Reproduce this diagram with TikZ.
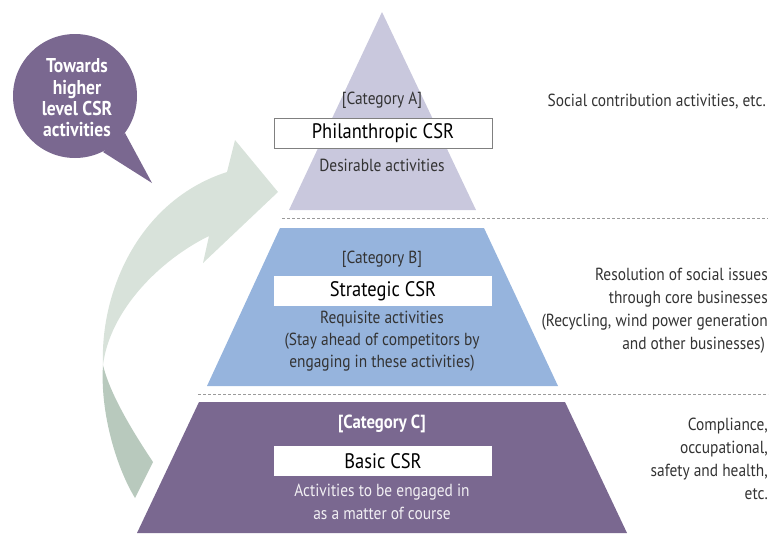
\documentclass[tikz,border=0pt]{standalone}
\usepackage{fontspec}
\setmainfont{PT Sans}[FakeStretch=0.88]
\begin{document}
\begin{tikzpicture}[x=1pt,y=-1pt,
  txt/.style={text=textgray,font=\fontsize{17.5}{22}\selectfont,inner sep=0pt,align=center},
  rtxt/.style={text=textgray,font=\fontsize{17.5}{23}\selectfont,inner sep=0pt,align=right,anchor=east},
  title/.style={text=black,font=\fontsize{21}{24}\selectfont,inner sep=0pt,minimum width=218pt,minimum height=30pt,fill=white},
  sep/.style={draw=dashgray,dashed,line width=0.6pt,dash pattern=on 3pt off 2pt}]
\definecolor{textgray}{HTML}{333333}
\definecolor{dashgray}{HTML}{9A9A9A}
\definecolor{lav}{HTML}{C9C8DD}
\definecolor{blu}{HTML}{96B4DD}
\definecolor{pur}{HTML}{7A6890}
\definecolor{arrlight}{HTML}{D8E2DA}
\definecolor{arrdark}{HTML}{B8C9BD}
\useasboundingbox (0,0) rectangle (782,533);
% pyramid layers
\fill[lav] (382,12) -- (476,210) -- (289,210) -- cycle;
\fill[blu] (280,228) -- (484,228) -- (558,386) -- (207,386) -- cycle;
\fill[pur] (199,402) -- (565,402) -- (627,533) -- (137,533) -- cycle;
% dashed separators
\coordinate (d1a) at (282,218); \coordinate (d1b) at (768,218);
\coordinate (d2a) at (198,394); \coordinate (d2b) at (768,394);
\draw[sep] (d1a) -- (d1b);
\draw[sep] (d2a) -- (d2b);
% curved arrow
\fill[arrdark] (103,365) .. controls (100,410) and (115,465) .. (135,498)
  -- (153,462) .. controls (135,435) and (110,395) .. (103,365) -- cycle;
\fill[arrlight] (103,365) .. controls (100,290) and (140,200) .. (227,172)
  -- (235,140) -- (278,192) -- (203,263) -- (209,236)
  .. controls (160,260) and (110,310) .. (103,365) -- cycle;
% speech bubble
\fill[pur] (75,96) circle[radius=62];
\fill[pur] (125,133) -- (152,183) -- (103,152) -- cycle;
\node[text=white,font=\bfseries\fontsize{20}{21.3}\selectfont,align=center,inner sep=0pt] (bubble) at (77,98) {Towards\\higher\\level CSR\\activities};
% category A
\node[txt] (catA) at (382,100) {[Category A]};
\node[title,draw=gray,line width=0.8pt] (boxA) at (383,133) {Philanthropic CSR};
\node[txt] (descA) at (382,165) {Desirable activities};
% category B
\node[txt] (catB) at (382,259) {[Category B]};
\node[title] (boxB) at (383,291) {Strategic CSR};
\node[txt,anchor=north] (descB) at (382,311) {Requisite activities\\(Stay ahead of competitors by\\engaging in these activities)};
% category C
\node[txt,text=white,font=\bfseries\fontsize{19}{22}\selectfont] (catC) at (382,424) {[Category C]};
\node[title] (boxC) at (383,461) {Basic CSR};
\node[txt,text=white!90!pur,font=\fontsize{17.5}{23}\selectfont,anchor=north] (descC) at (382,484) {Activities to be engaged in\\as a matter of course};
% right descriptions
\node[rtxt] (rA) at (766,102) {Social contribution activities, etc.};
\node[rtxt,anchor=north east] (rB) at (768,268) {Resolution of social issues\\through core businesses\\(Recycling, wind power generation\\and other businesses)\,};
\node[rtxt,anchor=north east] (rC) at (768,418) {Compliance,\\occupational,\\safety and health,\\etc.};
\end{tikzpicture}
\end{document}
